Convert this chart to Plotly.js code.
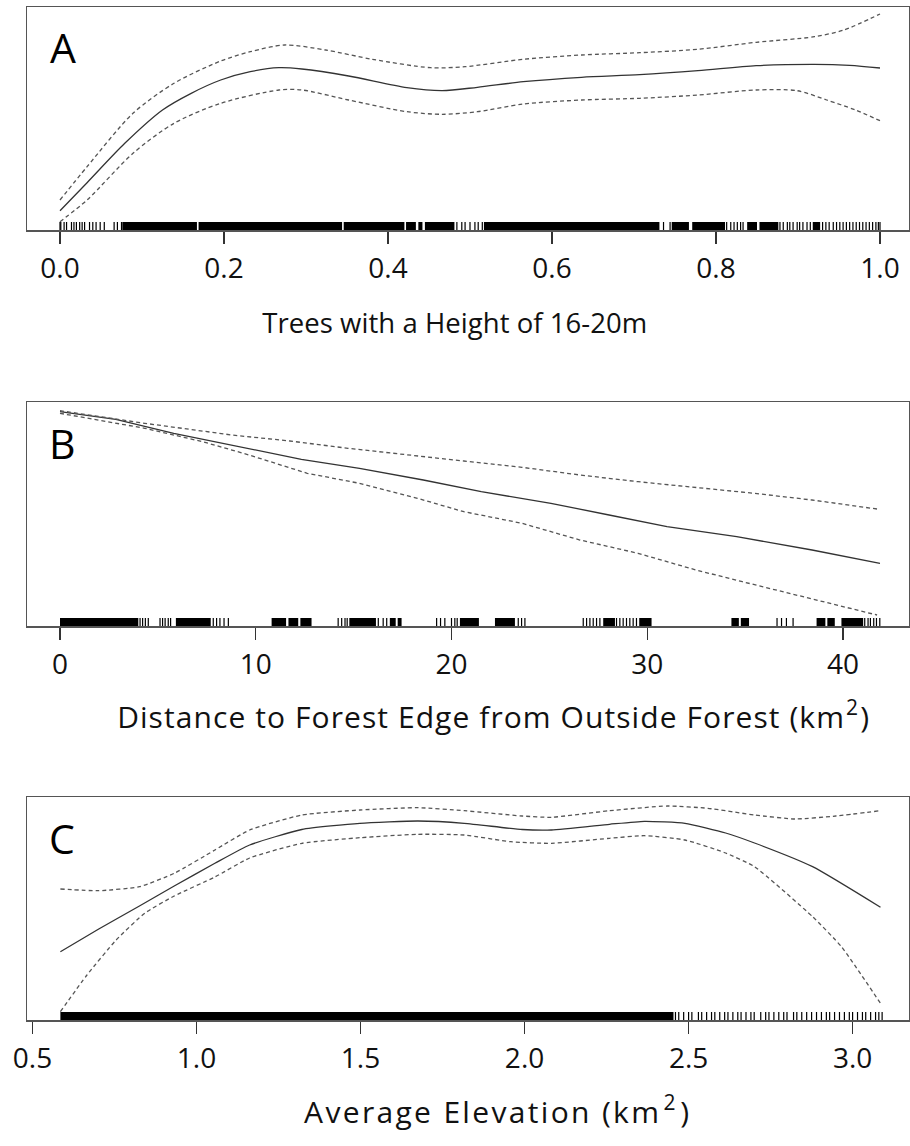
<!DOCTYPE html>
<html>
<head>
<meta charset="utf-8">
<script src="https://cdn.plot.ly/plotly-3.0.1.min.js"></script>
<style>html,body{margin:0;padding:0;background:#fff;}#chart{width:910px;height:1146px;}</style>
</head>
<body>
<div id="chart"></div>
<script>
// ---------- Panel A: Trees with a Height of 16-20m ----------
const xA = [0, 0.033, 0.079, 0.125, 0.16, 0.196, 0.232, 0.267, 0.295, 0.352, 0.423, 0.466, 0.509, 0.565, 0.636, 0.707, 0.778, 0.849, 0.92, 0.963, 1.0];
const fitA = [19.3, 47.3, 86.7, 120, 136.7, 150, 158.3, 162.3, 161, 154, 142.3, 139.3, 142.7, 148.3, 152.7, 155.3, 159.3, 164.3, 165.7, 164.7, 162];
const xAU = [0, 0.033, 0.089, 0.139, 0.196, 0.232, 0.274, 0.324, 0.381, 0.452, 0.494, 0.565, 0.636, 0.707, 0.778, 0.849, 0.92, 0.956, 1.0];
const upA = [30, 63.3, 116.7, 146.7, 169, 178.3, 185, 180, 170.7, 162.3, 163.3, 170.7, 175, 177.3, 180.7, 187.7, 193.3, 200, 216];
const xAL = [0, 0.033, 0.089, 0.139, 0.196, 0.267, 0.295, 0.352, 0.423, 0.466, 0.509, 0.565, 0.636, 0.707, 0.778, 0.849, 0.899, 0.935, 0.97, 1.0];
const loA = [8.3, 30, 76.7, 106.7, 126.7, 140, 140, 130, 118.3, 115.7, 118.3, 126, 130, 131.7, 135, 140, 139.3, 130, 120, 109.3];
const rugA_bands = [[0.076,0.167],[0.169,0.344],[0.346,0.420],[0.422,0.434],[0.437,0.442],[0.445,0.481],[0.517,0.731],[0.746,0.767],[0.771,0.811],[0.838,0.850],[0.853,0.876],[0.918,0.927]];
const rugA_ticks = [0.0,0.001,0.005,0.008,0.014,0.017,0.020,0.024,0.027,0.030,0.036,0.040,0.044,0.049,0.054,0.066,0.070,0.075,
  0.484,0.490,0.494,0.500,0.506,0.510,0.515,0.736,0.744,0.813,0.818,0.822,0.826,0.830,0.833,
  0.878,0.882,0.887,0.890,0.894,0.899,0.902,0.906,0.911,0.915,
  0.930,0.934,0.938,0.943,0.947,0.951,0.955,0.959,0.963,0.967,0.971,0.975,0.979,0.983,0.987,0.991,0.995,0.998,1.0];
const ticksA = [0, 0.2, 0.4, 0.6, 0.8, 1.0];

// ---------- Panel B: Distance to Forest Edge from Outside Forest ----------
const xB = [0, 2.85, 5.81, 9.66, 12.33, 15.3, 18.56, 21.52, 25.08, 28.05, 31.01, 34.57, 38.42, 41.89];
const fitB = [214.3, 206.7, 192.7, 177.7, 166.7, 157.7, 146, 134.3, 122.7, 111, 99.3, 89.3, 76, 62.7];
const xBU = [0, 4.33, 8.78, 11.74, 14.71, 17.67, 20.63, 23.6, 26.56, 29.53, 32.49, 35.46, 38.42, 41.74];
const upB = [215.3, 202.7, 191, 185, 177.7, 171, 165, 158.7, 151, 144.3, 138.7, 132.7, 126, 117];
const xBL = [0, 4.33, 7.29, 9.66, 12.63, 15.3, 18.26, 20.63, 23.6, 26.56, 29.53, 32.49, 34.86, 36.94, 39.02, 41.74];
const loB = [212.7, 197.7, 184.3, 171, 152.7, 142.7, 127.7, 114.3, 102.7, 86, 72.7, 56, 44.3, 34.3, 24.3, 11];
const rugB_bands = [[0,4.0],[5.92,7.70],[10.81,11.55],[11.67,12.17],[12.28,12.85],[14.78,16.14],[16.85,17.15],[17.25,17.45],
  [20.43,21.40],[22.22,23.24],[27.75,28.35],[29.59,30.22],[34.3,34.68],[34.78,35.2],[38.65,39.1],[39.2,39.58],[39.92,41.03]];
const rugB_ticks = [4.09,4.22,4.36,4.51,5.11,5.24,5.37,5.53,5.65,7.83,8.0,8.17,8.38,8.60,14.21,14.39,14.56,14.67,16.26,16.51,16.69,
  19.24,19.44,19.66,20.0,20.17,20.29,23.41,23.58,23.75,26.73,26.9,27.07,27.24,27.41,27.58,
  28.43,28.6,28.77,28.94,29.11,29.28,29.45,36.63,36.86,37.11,37.45,41.11,41.28,41.4,41.57,41.71,41.88];
const ticksB = [0, 10, 20, 30, 40];

// ---------- Panel C: Average Elevation ----------
const xC = [0.585, 0.702, 0.826, 0.932, 1.056, 1.162, 1.321, 1.498, 1.675, 1.816, 1.993, 2.082, 2.259, 2.365, 2.489, 2.613, 2.701, 2.878, 3.085];
const fitC = [68.3, 91, 114, 134, 156.7, 175, 190.5, 196.7, 199, 196.7, 190.5, 190, 195.7, 198.7, 196.7, 187, 177, 153.3, 112.7];
const xCU = [0.585, 0.702, 0.826, 0.932, 1.056, 1.162, 1.321, 1.498, 1.675, 1.816, 1.993, 2.082, 2.259, 2.436, 2.559, 2.701, 2.825, 2.949, 3.085];
const upC = [131, 129.3, 133.3, 146.7, 170, 190, 205, 210, 212.3, 209.3, 204, 202.7, 209.3, 214, 211.7, 205, 201, 204, 209.3];
const xCL = [0.585, 0.666, 0.755, 0.843, 0.932, 1.056, 1.162, 1.321, 1.498, 1.675, 1.816, 1.958, 2.082, 2.259, 2.365, 2.489, 2.613, 2.701, 2.878, 2.966, 3.085];
const loC = [8.3, 45, 80, 107, 124, 143, 162, 176.7, 182.3, 185.7, 185, 178.3, 176.7, 181.7, 184.3, 180, 167, 153.3, 103.3, 73.3, 16.7];
const rugC_bands = [[0.585, 2.454]];
const rugC_ticks = [2.46,2.47,2.485,2.50,2.51,2.53,2.54,2.555,2.57,2.58,2.595,2.61,2.62,2.635,2.65,2.66,2.675,2.69,2.70,2.72,2.735,2.745,
  2.76,2.775,2.79,2.80,2.82,2.83,2.845,2.86,2.875,2.89,2.905,2.92,2.93,2.945,2.96,2.975,2.99,3.0,3.015,3.03,3.04,3.055,3.07,3.08,3.09];
const ticksC = [0.5, 1.0, 1.5, 2.0, 2.5, 3.0];

const labels = ['A', 'B', 'C'];
const titles = ['Trees with a Height of 16-20m', 'Distance to Forest Edge from Outside Forest (km<sup>2</sup>)', 'Average Elevation (km<sup>2</sup>)'];

// ---------- build ----------
const W = 910, H = 1146, L = 27, R = 909;
const fitStyle = {color: '#333', width: 1.3};
const ciStyle = {color: '#555', width: 1.3, dash: '4px,3px'};

const panels = [
  {xs: xA, fit: fitA, xu: xAU, up: upA, xl: xAL, lo: loA, bands: rugA_bands, ticks: rugA_ticks, tv: ticksA, fmt: '.1f', range: [-33/820, 849/820], top: 7, bot: 230, smooth: 0.8},
  {xs: xB, fit: fitB, xu: xBU, up: upB, xl: xBL, lo: loB, bands: rugB_bands, ticks: rugB_ticks, tv: ticksB, fmt: 'd', range: [-33/19.575, 849/19.575], top: 402, bot: 626, smooth: 0},
  {xs: xC, fit: fitC, xu: xCU, up: upC, xl: xCL, lo: loC, bands: rugC_bands, ticks: rugC_ticks, tv: ticksC, fmt: '.1f', range: [0.5 - 5.5/328.04, 0.5 + 876.5/328.04], top: 797, bot: 1020, smooth: 0.5}
];

const data = [];
const shapes = [];
const annotations = [];
const layout = {
  width: W, height: H,
  margin: {l: L, r: W - R, t: 0, b: 0, pad: 0},
  paper_bgcolor: '#fff', plot_bgcolor: '#fff',
  showlegend: false,
  font: {family: 'Open Sans, sans-serif', color: '#111'}
};

panels.forEach((p, i) => {
  const n = i === 0 ? '' : String(i + 1);
  const xa = 'x' + n, ya = 'y' + n;
  const ln = p.smooth > 0 ? {shape: 'spline', smoothing: p.smooth} : {shape: 'linear'};
  data.push({x: p.xs, y: p.fit, xaxis: xa, yaxis: ya, mode: 'lines', line: Object.assign({}, ln, fitStyle), hoverinfo: 'skip'});
  data.push({x: p.xu, y: p.up, xaxis: xa, yaxis: ya, mode: 'lines', line: Object.assign({}, ln, ciStyle), hoverinfo: 'skip'});
  data.push({x: p.xl, y: p.lo, xaxis: xa, yaxis: ya, mode: 'lines', line: Object.assign({}, ln, ciStyle), hoverinfo: 'skip'});
  const h = p.bot - p.top;
  const rugH = 8 / h;
  p.bands.forEach(b => shapes.push({type: 'rect', xref: xa, yref: ya + ' domain', x0: b[0], x1: b[1], y0: 0, y1: rugH, fillcolor: '#000', line: {width: 0}, layer: 'above'}));
  p.ticks.forEach(t => shapes.push({type: 'line', xref: xa, yref: ya + ' domain', x0: t, x1: t, y0: 0, y1: rugH, line: {color: '#000', width: 1.2}, layer: 'above'}));
  const dom = [1 - p.bot / H, 1 - p.top / H];
  layout['xaxis' + n] = {
    anchor: ya, domain: [0, 1], range: p.range,
    showline: true, mirror: true, linecolor: '#555', linewidth: 1.5,
    showgrid: false, zeroline: false,
    ticks: 'outside', ticklen: 12, tickwidth: 1.3, tickcolor: '#333',
    tickvals: p.tv, tickformat: p.fmt, ticklabelstandoff: 1,
    tickfont: {family: 'Open Sans, sans-serif', size: 28, color: '#111'},
    fixedrange: true
  };
  layout['yaxis' + n] = {
    anchor: xa, domain: dom, range: [0, h],
    showline: true, mirror: true, linecolor: '#555', linewidth: 1.5,
    showgrid: false, zeroline: false, showticklabels: false, ticks: '',
    fixedrange: true
  };
});

const labelPos = [[63, 47], [62, 443], [62, 838]];
labels.forEach((t, i) => annotations.push({text: t, xref: 'paper', yref: 'paper', x: (labelPos[i][0] - L) / (R - L), y: 1 - labelPos[i][1] / H,
  xanchor: 'center', yanchor: 'middle', showarrow: false, font: {family: 'Open Sans, sans-serif', size: 41, color: '#000'}}));
const titlePos = [[455, 322], [493, 715], [497, 1110]];
const titleSize = [27.5, 30, 30];
const titleWidth = [385, 752, 385];
titles.forEach((t, i) => annotations.push({text: t, xref: 'paper', yref: 'paper', x: (titlePos[i][0] - L) / (R - L), y: 1 - titlePos[i][1] / H,
  xanchor: 'center', yanchor: 'middle', showarrow: false, font: {family: 'Open Sans, sans-serif', size: titleSize[i], color: '#111'}}));

layout.shapes = shapes;
layout.annotations = annotations;

Plotly.newPlot('chart', data, layout, {displayModeBar: false, staticPlot: true}).then(gd => {
  const texts = gd.querySelectorAll('.annotation-text');
  titles.forEach((t, i) => {
    const el = texts[labels.length + i];
    if (el) { el.setAttribute('textLength', titleWidth[i]); el.setAttribute('lengthAdjust', 'spacing'); }
  });
});
</script>
</body>
</html>
